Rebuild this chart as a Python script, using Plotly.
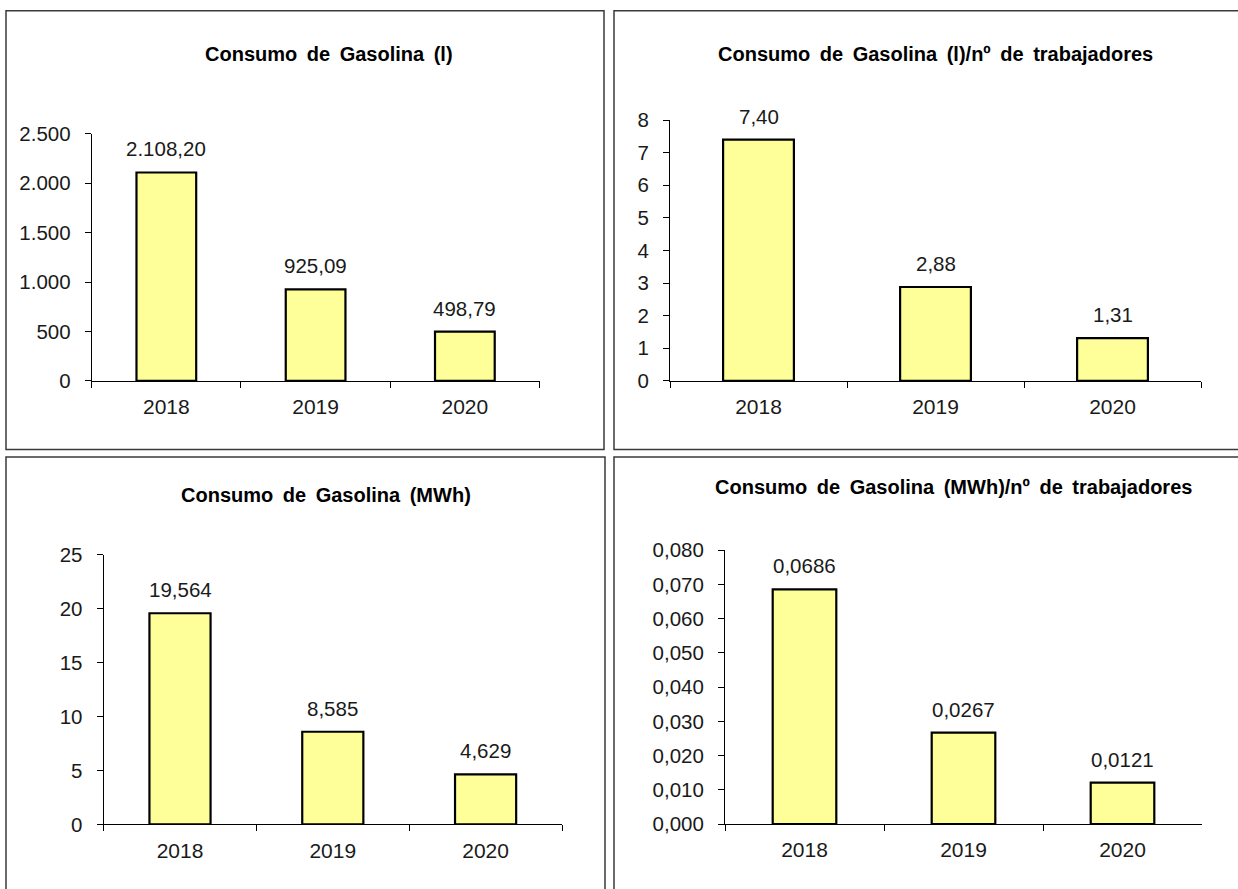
import plotly.graph_objects as go

W, H = 1238, 889

years = ["2018", "2019", "2020"]
litros = [2108.20, 925.09, 498.79]
litros_trab = [7.40, 2.88, 1.31]
mwh = [19.564, 8.585, 4.629]
mwh_trab = [0.0686, 0.0267, 0.0121]

titles = [
    "Consumo de Gasolina (l)",
    "Consumo de Gasolina (l)/nº de trabajadores",
    "Consumo de Gasolina (MWh)",
    "Consumo de Gasolina (MWh)/nº de trabajadores",
]
series = [litros, litros_trab, mwh, mwh_trab]
y_ranges = [[0, 2500], [0, 8], [0, 25], [0, 0.08]]
y_dticks = [500, 1, 5, 0.01]
y_formats = [",d", "d", "d", ".3f"]
label_formats = [",.2f", ".2f", ".3f", ".4f"]


def fy(t):
    # vertical pixel target -> layout pixel (compensates observed render offset)
    return (t - 10.7) / 0.976


# layout in pixels (plot areas), converted to paper fractions
plot_px = [
    (91.7, 539.5, 132.7, 380.3),
    (670.0, 1201.0, 119.0, 380.3),
    (103.6, 562.0, 554.3, 824.7),
    (725.0, 1202.0, 550.0, 824.3),
]
title_px = [(329, 53), (935, 53), (326, 495), (953, 487)]
border_px = [
    (6, 604, 9.5, 449),
    (614, 1245, 9.5, 449),
    (6, 605, 456.5, 905),
    (614, 1245, 456.5, 905),
]

FONT = "Liberation Sans, Arial, sans-serif"
TXT = "#1a1a1a"

fig = go.Figure()
annotations = []
shapes = []
layout_axes = {}

for i in range(4):
    n = "" if i == 0 else str(i + 1)
    x0, x1, yt, yb = plot_px[i]
    fmt = label_formats[i]
    fig.add_trace(go.Bar(
        x=years, y=series[i], width=0.4,
        marker=dict(color="#FFFF99", line=dict(color="black", width=2.2)),
        xaxis="x" + n, yaxis="y" + n, showlegend=False, hoverinfo="skip",
    ))
    for j, v in enumerate(series[i]):
        txt = format(v, fmt).replace(",", "X").replace(".", ",").replace("X", ".")
        annotations.append(dict(
            x=j, y=v, xref="x" + n, yref="y" + n, text=txt, showarrow=False,
            yanchor="bottom", yshift=10, font=dict(family=FONT, size=20.5, color=TXT),
        ))
    layout_axes["xaxis" + n] = dict(
        domain=[x0 / W, x1 / W], anchor="y" + n, type="category",
        range=[-0.5, 2.5], showline=True, linecolor="black", linewidth=1,
        ticks="outside", tickson="boundaries", ticklen=6, tickcolor="black",
        showgrid=False, zeroline=False, fixedrange=True,
        tickfont=dict(family=FONT, size=21, color=TXT), ticklabelstandoff=7,
    )
    layout_axes["yaxis" + n] = dict(
        domain=[1 - fy(yb) / H, 1 - fy(yt) / H], anchor="x" + n,
        range=y_ranges[i], dtick=y_dticks[i], tick0=0, tickformat=y_formats[i],
        showline=True, linecolor="black", linewidth=1, ticks="outside",
        ticklen=6, tickcolor="black", showgrid=False, zeroline=False,
        tickfont=dict(family=FONT, size=20.5, color=TXT), ticklabelstandoff=10,
        fixedrange=True,
    )
    tx, ty = title_px[i]
    annotations.append(dict(
        x=tx / W, y=1 - fy(ty) / H, xref="paper", yref="paper",
        text="<b>" + titles[i].replace(" ", " \u2009") + "</b>",
        showarrow=False, xanchor="center", yanchor="middle",
        font=dict(family=FONT, size=20, color="black"),
    ))
    bx0, bx1, by0, by1 = border_px[i]
    shapes.append(dict(
        type="rect", xref="paper", yref="paper",
        x0=bx0 / W, x1=bx1 / W, y0=1 - fy(by1) / H, y1=1 - fy(by0) / H,
        line=dict(color="#3a3a3a", width=1.5), fillcolor="rgba(0,0,0,0)", layer="below",
    ))

fig.update_layout(
    width=W, height=H, margin=dict(l=0, r=0, t=0, b=0),
    paper_bgcolor="white", plot_bgcolor="white",
    separators=",.", annotations=annotations, shapes=shapes,
    **layout_axes,
)

fig.write_html(
    "out.html", config={"displayModeBar": False},
    post_script="document.body.style.margin='0';document.body.style.overflow='hidden';",
)
